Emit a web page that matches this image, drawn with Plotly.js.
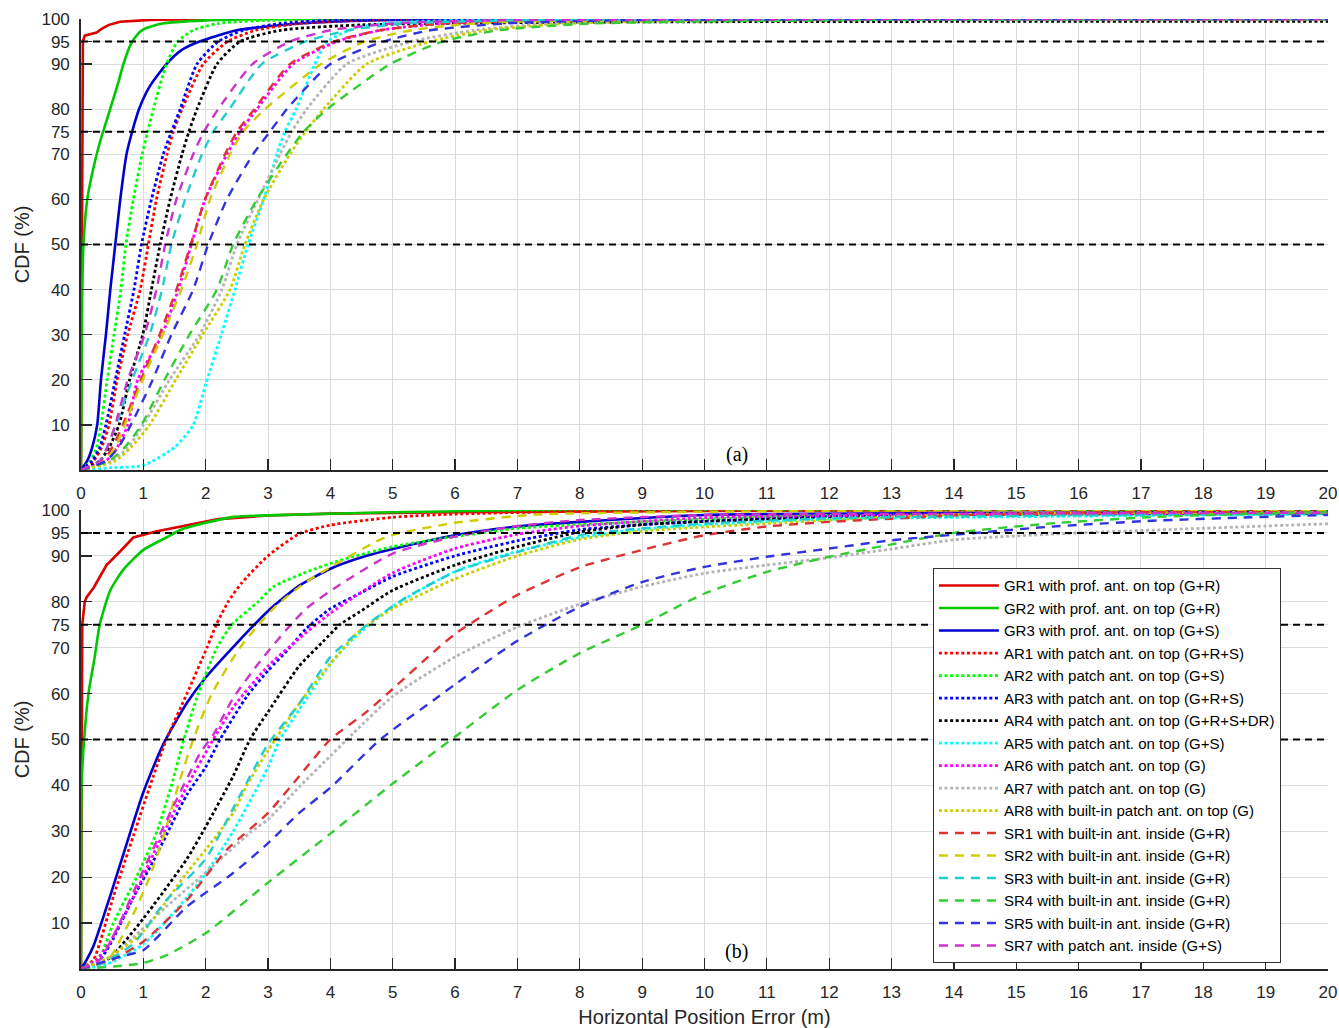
<!DOCTYPE html>
<html>
<head>
<meta charset="utf-8">
<script src="https://cdn.plot.ly/plotly-3.0.1.min.js"></script>
<style>
html,body{margin:0;padding:0;background:#fff;}
#chart{width:1339px;height:1028px;}
</style>
</head>
<body>
<div id="chart"></div>
<script>
// ---------- Axis ticks ----------
const xTicks = [0,1,2,3,4,5,6,7,8,9,10,11,12,13,14,15,16,17,18,19,20];
const yTicks = [10,20,30,40,50,60,70,75,80,90,95,100];
const refLevels = [50, 75, 95];

// ---------- Series names ----------
const names = [
  "GR1 with prof. ant. on top (G+R)",
  "GR2 with prof. ant. on top (G+R)",
  "GR3 with prof. ant. on top (G+S)",
  "AR1 with patch ant. on top (G+R+S)",
  "AR2 with patch ant. on top (G+S)",
  "AR3 with patch ant. on top (G+R+S)",
  "AR4 with patch ant. on top (G+R+S+DR)",
  "AR5 with patch ant. on top (G+S)",
  "AR6 with patch ant. on top (G)",
  "AR7 with patch ant. on top (G)",
  "AR8 with built-in patch ant. on top (G)",
  "SR1 with built-in ant. inside (G+R)",
  "SR2 with built-in ant. inside (G+R)",
  "SR3 with built-in ant. inside (G+R)",
  "SR4 with built-in ant. inside (G+R)",
  "SR5 with built-in ant. inside (G+R)",
  "SR7 with patch ant. inside (G+S)"
];

// ---------- Panel (a): CDF levels (%) shared by most series ----------
const levA = [0,2,5,10,20,30,40,50,60,70,75,80,90,95,97.5,99,99.7,100];

const gr1A_x = [0,0.01,0.03,0.06,0.25,0.35,0.45,0.63,1.1,2,20];
const gr1A_y = [0,50,95,96.3,97,98,98.7,99.4,99.8,100,100];
const gr2A_x = [0,0.005,0.01,0.02,0.04,0.1,0.2,0.3,0.4,0.5,0.6,0.68,0.8,0.9,1.0,1.3,2,3,20];
const gr2A_y = [0,10,25,40,50,60,67,72.5,77,81.5,86,90,94.5,96.5,97.7,99,99.7,100,100];
const gr3A_x = [0,0.1,0.18,0.26,0.32,0.4,0.47,0.55,0.63,0.73,0.82,0.93,1.1,1.37,1.6,1.9,2.5,3.5,5,20];
const gr3A_y = [0,2,5,10,20,30,40,50,60,70,75,80,85,90,93,95,97.5,99,99.8,100];
const ar1A_x = [0,0.2,0.33,0.45,0.58,0.75,0.95,1.08,1.21,1.38,1.48,1.62,1.96,2.35,2.8,3.5,4.5,20];
const ar2A_x = [0,0.15,0.25,0.32,0.42,0.53,0.64,0.72,0.84,0.98,1.07,1.16,1.37,1.55,1.8,2.2,3,20];
const ar3A_x = [0,0.18,0.3,0.4,0.55,0.7,0.85,0.97,1.13,1.32,1.45,1.59,1.86,2.2,2.6,3.2,4,20];
const ar4A_x = [0,0.3,0.45,0.61,0.78,0.99,1.13,1.27,1.43,1.62,1.73,1.86,2.18,2.55,3.2,4.5,8,20];
const ar4A_y = [0,2,5,10,20,30,40,50,60,70,75,80,90,95,97.5,98.7,99.3,99.5];
const ar5A_x = [0,0.5,1.0,1.5,1.8,2.0,2.25,2.47,2.68,2.93,3.14,3.27,3.45,3.75,3.95,4.4,4.85,6,8,20];
const ar5A_y = [0,0.5,1,5,10,19,30,40,50,60,70,75,80,90,95,98,99,99.7,100,100];
const ar6A_x = [0,0.4,0.58,0.75,0.91,1.3,1.56,1.77,1.99,2.34,2.55,2.82,3.4,4.1,4.8,5.8,7.5,20];
const ar7A_x = [0,0.5,0.75,1.0,1.42,1.9,2.26,2.5,2.84,3.19,3.38,3.62,4.26,5.3,6.3,7.5,9.5,20];
const ar8A_x = [0,0.55,0.8,1.1,1.52,1.95,2.39,2.63,2.93,3.35,3.6,3.89,4.58,5.6,6.5,7.8,10,20];
const sr1A_x = [0,0.35,0.5,0.67,0.96,1.26,1.53,1.76,1.99,2.31,2.5,2.78,3.35,4.05,4.8,5.8,7.5,20];
const sr2A_x = [0,0.38,0.55,0.7,0.99,1.31,1.61,1.86,2.07,2.39,2.6,2.95,3.85,4.55,5.3,6.3,8,20];
const sr3A_x = [0,0.3,0.42,0.56,0.82,1.1,1.3,1.45,1.67,1.94,2.12,2.38,2.9,3.6,4.3,5.2,7,20];
const sr4A_x = [0,0.45,0.7,0.97,1.34,1.74,2.18,2.44,2.82,3.3,3.57,3.95,4.96,5.8,6.7,8.2,12,20];
const sr5A_x = [0,0.4,0.6,0.8,1.15,1.45,1.8,2.04,2.34,2.76,3.03,3.3,4.0,4.85,5.6,6.8,8.5,20];
const sr7A_x = [0,0.3,0.42,0.55,0.75,1.02,1.21,1.35,1.53,1.8,1.97,2.2,2.75,3.35,4.0,5.0,6.5,20];

// ---------- Panel (b) ----------
const gr1B_x = [0,0.005,0.01,0.02,0.06,0.09,0.2,0.41,0.63,0.84,1.2,1.7,2.2,3,4,6,10,15,20];
const gr1B_y = [0,40,70,75,80,81,83,88,91,94,95.3,96.7,98,98.8,99.2,99.5,99.8,100,100];
const gr2B_x = [0,0.005,0.01,0.05,0.12,0.22,0.3,0.47,0.68,1.0,1.37,1.6,2.0,2.45,3.5,5,8,20];
const gr2B_y = [0,20,40,50,60,68,75,82.5,87,91.3,94,95.7,97.2,98.5,99,99.5,100,100];
const gr3B_x = [0,0.09,0.2,0.47,0.68,1.0,1.32,1.7,2.0,2.5,3.0,3.5,4.0,4.58,5.0,6.0,7.0,8.0,10,14,20];
const gr3B_y = [0,2,5,16,25,38.5,49,58,63.5,71,78,83.5,87.2,90,91.5,94.5,96.4,97.4,98.9,99.3,99.6];
const ar1B_x = [0,0.2,0.3,0.52,0.84,1.16,1.37,1.7,2.02,2.17,2.36,2.57,3.0,3.5,4.0,5.0,6.0,8,12,20];
const ar1B_y = [0,2,5.6,15.8,29,42,50,60,70,75,80,84,90,94.8,96.7,98.4,99.1,99.7,100,100];
const ar2B_x = [0,0.3,0.52,0.89,1.22,1.45,1.65,1.88,2.18,2.42,2.84,3.09,3.62,4.15,5.0,6.0,7.0,8,10,12,20];
const ar2B_y = [0,2.7,10,20,30,40,50,60,70,75,80,83.3,86.5,89,92,94.2,96,96.8,98,98.8,99.2];
const ar3B_x = [0,0.3,0.47,0.84,1.16,1.7,2.0,2.23,2.66,3.0,3.35,3.6,4.0,4.5,5.0,6.0,7.0,8.0,9,10,13,20];
const ar3B_y = [0,2,5.4,15.6,23.5,38,44,50,59.4,65,70,74,78.5,82,85.5,90,93.3,95.7,96.8,97.5,99,99.3];
const ar4B_x = [0,0.25,0.47,1.0,1.7,2.0,2.44,2.71,3.0,3.5,3.88,4.15,4.47,5.0,6.0,7.0,8.0,9.0,10,13,20];
const ar4B_y = [0,1,2.5,11,24,31,42,50,56,66,71.3,75,77.8,82.5,88,92,95.2,96.8,97.5,98.8,99.3];
const ar5B_x = [0,0.4,1.0,1.7,2.0,2.44,3.0,3.19,3.5,4.0,4.37,5.0,6.0,7.0,8.0,9,10,12,20];
const ar5B_y = [0,1,5.4,15.6,20.8,30,44,50,56.5,66.5,72,79,86.6,91,94,95.8,96.8,98,99.1];
const ar6B_x = [0,0.25,0.47,0.84,1.16,1.7,2.12,2.44,3.0,3.5,4.0,5.0,6.0,7.0,8.0,10,14,20];
const ar6B_y = [0,2,6,15.6,25,39.8,50,57,66,72,77.5,86.3,91.6,94.7,96.5,98.3,99,99.3];
const ar7B_x = [0,0.47,1.37,2.0,2.71,3.0,3.51,4.0,4.37,5.0,6.0,7.0,8.0,9.0,10,11,12,13,14,16,18,20];
const ar7B_y = [0,2.6,13.6,21,29.7,32.6,39.8,46.4,51.4,59.4,68,74.5,79.5,83.3,86.2,88,89.6,91.5,93.5,95,96,97];
const ar8B_x = [0,0.47,1.0,1.7,2.0,2.44,2.66,3.0,3.51,4.0,4.3,4.5,5.0,6.0,7.0,8.0,9,10,14,20];
const ar8B_y = [0,2.7,8.2,21,26,34,40,47.6,58,66.5,71.3,74,78.5,85,90,93.6,95.4,96.3,99,99.5];
const sr1B_x = [0,0.5,1.0,1.7,2.34,3.0,3.5,4.0,4.58,5.0,5.65,6.0,6.45,7.0,8.0,9.0,10,11,12,13,14,16,20];
const sr1B_y = [0,2,6,15,26,34,42,50,56,61,69,73,77,81.5,87.5,91.3,94.5,96.4,97.4,98.1,98.8,99.4,99.7];
const sr2B_x = [0,0.3,0.47,0.84,1.1,1.35,1.56,1.8,2.1,2.55,2.85,3.12,3.62,4.15,4.79,5.06,6.0,7.3,10,15,20];
const sr2B_y = [0,1,2.6,12,20,30,40,50,60,70,75,79,84.4,88.7,93.5,94.8,97.2,99,99.6,100,100];
const sr3B_x = [0,0.3,0.84,1.37,2.0,2.44,3.0,3.51,4.0,4.37,4.68,5.0,5.22,6.0,7.0,8.0,9,10,12,20];
const sr3B_y = [0,1,5.5,15,24,35,49,58,68,72.5,76,79,81,86.5,90.8,94.5,96,97,98.2,99.2];
const sr4B_x = [0,0.57,1.0,1.37,2.0,2.98,4.0,5.0,6.0,7.0,8.0,9.0,10,11,12,13,14,15.5,17.1,18.75,20];
const sr4B_y = [0,0.6,1.3,3,7.8,18.6,29.5,40.4,50.6,60.8,68.8,75,81.8,86.5,89.8,92.5,95,97,98.4,99.2,99.5];
const sr5B_x = [0,0.63,1.0,1.7,2.44,3.0,3.5,4.0,4.8,5.65,6.0,7.0,8.0,9.0,10,11,12,13,14,15.5,17.1,18.75,20];
const sr5B_y = [0,2.7,4.1,13.6,20.9,27.4,34,39.5,50,58.5,62,71.5,78.9,84.3,87.6,89.8,91.6,93.4,94.6,96.3,97.6,98.4,98.9];
const sr7B_x = [0,0.3,0.57,1.0,1.48,1.91,2.12,2.44,2.87,3.3,3.62,4.15,5.0,6.0,7.0,8.0,10,14,20];
const sr7B_y = [0,2,8.6,21.6,35.4,47,51,59,67,74,78.6,83.7,90.5,94.2,96.5,97.8,98.9,99.2,99.4];

// ---------- Styles (colour, dash, width) ----------
const DOT = "3px,2.6px", DASH = "9px,7px";
const styles = [
  {c:"#dd0000", d:"solid", w:2.6},
  {c:"#00c800", d:"solid", w:2.6},
  {c:"#0000cc", d:"solid", w:2.6},
  {c:"#ff0000", d:DOT, w:2.8},
  {c:"#00ff00", d:DOT, w:2.8},
  {c:"#0000ff", d:DOT, w:2.8},
  {c:"#000000", d:DOT, w:2.8},
  {c:"#00ffff", d:DOT, w:2.8},
  {c:"#ff00ff", d:DOT, w:2.8},
  {c:"#b4b4b4", d:DOT, w:2.8},
  {c:"#cccc00", d:DOT, w:2.8},
  {c:"#dd3333", d:DASH, w:2.4},
  {c:"#cccc00", d:DASH, w:2.4},
  {c:"#22cccc", d:DASH, w:2.4},
  {c:"#33cc33", d:DASH, w:2.4},
  {c:"#3333dd", d:DASH, w:2.4},
  {c:"#cc33cc", d:DASH, w:2.4}
];

const seriesA = [
  [gr1A_x, gr1A_y],[gr2A_x, gr2A_y],[gr3A_x, gr3A_y],
  [ar1A_x, levA],[ar2A_x, levA],[ar3A_x, levA],[ar4A_x, ar4A_y],[ar5A_x, ar5A_y],
  [ar6A_x, levA],[ar7A_x, levA],[ar8A_x, levA],
  [sr1A_x, levA],[sr2A_x, levA],[sr3A_x, levA],[sr4A_x, levA],[sr5A_x, levA],[sr7A_x, levA]
];
const seriesB = [
  [gr1B_x, gr1B_y],[gr2B_x, gr2B_y],[gr3B_x, gr3B_y],
  [ar1B_x, ar1B_y],[ar2B_x, ar2B_y],[ar3B_x, ar3B_y],[ar4B_x, ar4B_y],[ar5B_x, ar5B_y],
  [ar6B_x, ar6B_y],[ar7B_x, ar7B_y],[ar8B_x, ar8B_y],
  [sr1B_x, sr1B_y],[sr2B_x, sr2B_y],[sr3B_x, sr3B_y],[sr4B_x, sr4B_y],[sr5B_x, sr5B_y],[sr7B_x, sr7B_y]
];

const traces = [];
function mk(s, i, xa, ya, show) {
  const st = styles[i];
  return {
    type: "scatter", mode: "lines", x: s[0], y: s[1], name: names[i],
    xaxis: xa, yaxis: ya, showlegend: show, hoverinfo: "skip",
    line: {color: st.c, dash: st.d, width: st.w, shape: i === 0 ? "linear" : "spline", smoothing: 0.6}
  };
}
seriesA.forEach((s, i) => traces.push(mk(s, i, "x", "y", false)));
seriesB.forEach((s, i) => traces.push(mk(s, i, "x2", "y2", true)));

const FONT = "Liberation Sans, Arial, sans-serif";
const tickFont = {family: FONT, size: 17, color: "#262626"};

function xAxis(anchor, title) {
  const ax = {
    anchor: anchor, domain: [0, 1], range: [0, 20], tickvals: xTicks,
    ticks: "inside", ticklen: 11, tickwidth: 1.3, tickcolor: "#262626",
    showline: true, linecolor: "#262626", linewidth: 1.6,
    showgrid: true, gridcolor: "#dcdcdc", gridwidth: 1, zeroline: false,
    tickfont: tickFont, ticklabelstandoff: 7, fixedrange: true
  };
  if (title) ax.title = {text: title, font: {family: FONT, size: 20, color: "#262626"}, standoff: 10};
  return ax;
}
function yAxis(anchor, domain) {
  return {
    anchor: anchor, domain: domain, range: [0, 100], tickvals: yTicks,
    ticks: "inside", ticklen: 11, tickwidth: 1.3, tickcolor: "#262626",
    showline: true, linecolor: "#262626", linewidth: 1.8,
    showgrid: true, gridcolor: "#dcdcdc", gridwidth: 1, zeroline: false,
    tickfont: tickFont, ticklabelstandoff: 6, fixedrange: true,
    title: {text: "CDF (%)", font: {family: FONT, size: 20, color: "#262626"}, standoff: 6}
  };
}

const shapes = [];
[["x","y"],["x2","y2"]].forEach(([xr, yr]) => {
  refLevels.forEach(v => shapes.push({
    type: "line", xref: xr, yref: yr, x0: 0, x1: 20, y0: v, y1: v,
    line: {color: "#000", width: 2, dash: "7px,5px"}, layer: "above"
  }));
});

const layout = {
  width: 1339, height: 1028,
  margin: {l: 81, r: 11, t: 19, b: 59},
  paper_bgcolor: "#fff", plot_bgcolor: "#fff",
  xaxis: xAxis("y", null),
  yaxis: yAxis("x", [0.5253, 1]),
  xaxis2: xAxis("y2", "Horizontal Position Error (m)"),
  yaxis2: yAxis("x2", [0, 0.4832]),
  shapes: shapes,
  annotations: [
    {text: "(a)", xref: "paper", yref: "paper", x: 0.526, y: 0.542, xanchor: "center", yanchor: "middle", showarrow: false,
     font: {family: "Liberation Serif, Times New Roman, serif", size: 20, color: "#000"}},
    {text: "(b)", xref: "paper", yref: "paper", x: 0.526, y: 0.018, xanchor: "center", yanchor: "middle", showarrow: false,
     font: {family: "Liberation Serif, Times New Roman, serif", size: 20, color: "#000"}}
  ],
  legend: {
    x: 0.683, y: 0.422, xanchor: "left", yanchor: "top",
    bgcolor: "#fff", bordercolor: "#333", borderwidth: 1.2,
    font: {family: FONT, size: 15, color: "#000"}, itemwidth: 60, tracegroupgap: 0
  },
  showlegend: true
};

Plotly.newPlot("chart", traces, layout, {staticPlot: true, displayModeBar: false});
</script>
</body>
</html>
